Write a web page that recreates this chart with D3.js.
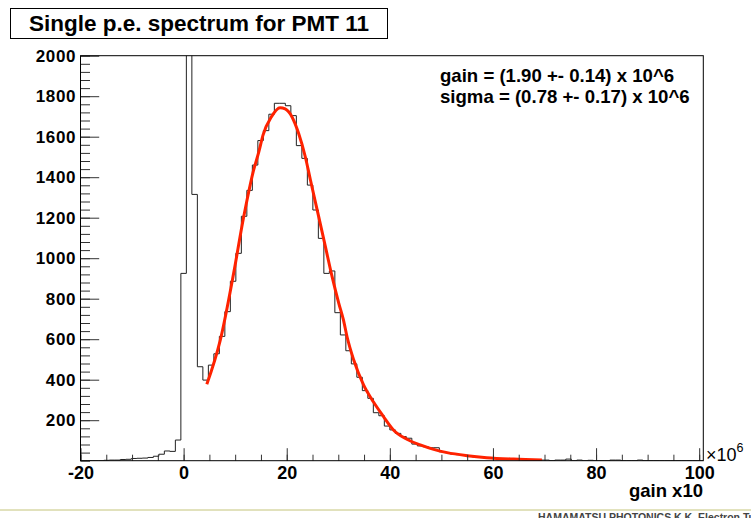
<!DOCTYPE html>
<html>
<head>
<meta charset="utf-8">
<script src="https://cdn.jsdelivr.net/npm/d3@7"></script>
<style>
  body { margin: 0; background: #fff; }
  svg { display: block; font-family: "Liberation Sans", Arial, Helvetica, sans-serif; }
</style>
</head>
<body>
<svg id="chart" width="751" height="518"></svg>
<script>
// histogram: fixed-width bins, first bin starts at binStart
const binStart = -20.8;
const binWidth = 16 / 15;
const counts = [
  0, 0, 0, 0, 0,
  2, 3, 3, 6, 7, 11, 12, 13, 16, 22, 32, 48, 46, 102,
  925, 5200, 1315, 464, 398, 472, 528, 614, 736, 886,
  1024, 1207, 1335, 1460, 1581, 1630, 1711, 1765, 1765, 1753,
  1704, 1556, 1493, 1361, 1238, 1098, 925, 937, 731, 621,
  543, 478, 412, 346, 308, 237, 222, 171, 152, 135,
  119, 111, 82, 73, 69, 64, 64, 44, 40, 33,
  30, 27, 22, 19, 17, 14, 13, 11, 9, 8,
  7, 6, 5, 5, 4, 3, 3, 0, 3, 3,
  8, 0, 3, 0, 2, 0, 0, 0, 3, 3,
  0, 0, 0, 3, 0, 0, 0, 0, 0, 0,
  0, 0, 0, 0, 0
];

// fitted curve
const fitX = [4.5, 7.1, 9.7, 11.6, 12.3, 13.5, 14.6, 15.4, 17.05, 18.7, 19.7, 21.0, 22.3, 23.6, 24.6,
  26.2, 27.5, 28.8, 30.1, 31.0, 31.7, 33.0, 34.9, 36.8, 38.8, 40.7, 43.3, 45.9, 48.5, 51.1, 55.0, 58.8, 64.0, 69.5];
const fitY = [377, 594, 925, 1197, 1287, 1427, 1526, 1608, 1699, 1743, 1737, 1699, 1617, 1501, 1386,
  1205, 1057, 909, 777, 695, 612, 497, 374, 291, 217, 152, 106, 78, 56, 40, 25, 15, 8, 4];

const xMajorTicks = [-20, 0, 20, 40, 60, 80, 100];
const xMinorTicks = d3.range(-20, 101, 5);
const yMajorTicks = [200, 400, 600, 800, 1000, 1200, 1400, 1600, 1800, 2000];
const yMinorTicks = d3.range(0, 2001, 40);

const titleText = 'Single p.e. spectrum for PMT 11';
const statLines = ['gain = (1.90 +- 0.14) x 10^6', 'sigma = (0.78 +- 0.17) x 10^6'];
const xAxisTitle = 'gain x10';

const svg = d3.select('#chart');
const frameL = 80.5, frameR = 703.3, frameT = 55.7, frameB = 460.7;

const x = d3.scaleLinear().domain([-20, 100.8]).range([frameL, frameR]);
const y = d3.scaleLinear().domain([0, 2000]).range([frameB, frameT]);

svg.append('rect').attr('width', 751).attr('height', 518).attr('fill', '#fff');

svg.append('clipPath').attr('id', 'frame')
  .append('rect').attr('x', frameL).attr('y', frameT).attr('width', frameR - frameL).attr('height', frameB - frameT);

// histogram outline
const steps = counts.map((c, i) => [binStart + i * binWidth, c]);
steps.push([binStart + counts.length * binWidth, counts[counts.length - 1]]);
svg.append('path')
  .attr('clip-path', 'url(#frame)')
  .attr('d', d3.line().x(d => x(d[0])).y(d => y(d[1])).curve(d3.curveStepAfter)(steps))
  .attr('fill', 'none')
  .attr('stroke', '#222')
  .attr('stroke-width', 1);

// fit
svg.append('path')
  .attr('clip-path', 'url(#frame)')
  .attr('d', d3.line().x(d => x(d[0])).y(d => y(d[1])).curve(d3.curveMonotoneX)(fitX.map((v, i) => [v, fitY[i]])))
  .attr('fill', 'none')
  .attr('stroke', '#ff2200')
  .attr('stroke-width', 3);

// axes (ticks pointing inward)
const xMinor = svg.append('g').attr('transform', `translate(0,${frameB})`)
  .call(d3.axisBottom(x).tickValues(xMinorTicks).tickSize(-6).tickFormat(''));
const xMajor = svg.append('g').attr('transform', `translate(0,${frameB})`)
  .call(d3.axisBottom(x).tickValues(xMajorTicks).tickSize(-12.5).tickPadding(4).tickFormat(d3.format('d')));
const yMinor = svg.append('g').attr('transform', `translate(${frameL},0)`)
  .call(d3.axisLeft(y).tickValues(yMinorTicks).tickSize(-9.5).tickFormat(''));
const yMajor = svg.append('g').attr('transform', `translate(${frameL},0)`)
  .call(d3.axisLeft(y).tickValues(yMajorTicks).tickSize(-18.7).tickPadding(4).tickFormat(d3.format('d')));

[xMinor, xMajor, yMinor, yMajor].forEach(g => {
  g.select('.domain').remove();
  g.selectAll('.tick line').attr('stroke', '#333');
});
xMajor.selectAll('text')
  .attr('y', 18.3).attr('dy', null)
  .attr('font-size', 18).attr('font-weight', 'bold').attr('fill', '#000')
  .text(d => (d < 0 ? '-' + Math.abs(d) : d));
yMajor.selectAll('text')
  .attr('x', -4.5)
  .attr('font-size', 17).attr('font-weight', 'bold').attr('fill', '#000')
  .attr('letter-spacing', 0.6);

// frame
svg.append('rect')
  .attr('x', frameL).attr('y', frameT).attr('width', frameR - frameL).attr('height', frameB - frameT)
  .attr('fill', 'none').attr('stroke', '#000').attr('stroke-width', 1);

// x10^6 multiplier
const mult = svg.append('text').attr('x', 706).attr('y', 461).attr('font-size', 18).attr('fill', '#000');
mult.append('tspan').text('\u00d710');
mult.append('tspan').attr('dy', -9).attr('font-size', 12.5).text('6');

svg.append('text')
  .attr('x', 703).attr('y', 497)
  .attr('text-anchor', 'end')
  .attr('font-size', 18.5).attr('font-weight', 'bold')
  .text(xAxisTitle);

// title box
svg.append('rect')
  .attr('x', 10.5).attr('y', 8.5).attr('width', 377).attr('height', 30)
  .attr('fill', '#fff').attr('stroke', '#000').attr('stroke-width', 1);
svg.append('text')
  .attr('x', 199).attr('y', 31)
  .attr('text-anchor', 'middle')
  .attr('font-size', 22.5).attr('font-weight', 'bold')
  .text(titleText);

// fit results
svg.selectAll('.stat').data(statLines).enter().append('text')
  .attr('class', 'stat')
  .attr('x', 440).attr('y', (d, i) => 81.5 + i * 21.5)
  .attr('font-size', 18.6).attr('font-weight', 'bold')
  .text(d => d);

// footer strip
svg.append('line').attr('x1', 0).attr('x2', 751).attr('y1', 510).attr('y2', 510)
  .attr('stroke', '#c4c47a').attr('stroke-width', 1);
svg.append('text')
  .attr('x', 538).attr('y', 521)
  .attr('font-size', 10.5).attr('font-weight', 'bold').attr('fill', '#444')
  .text('HAMAMATSU PHOTONICS K.K. Electron Tube Div.');
</script>
</body>
</html>
